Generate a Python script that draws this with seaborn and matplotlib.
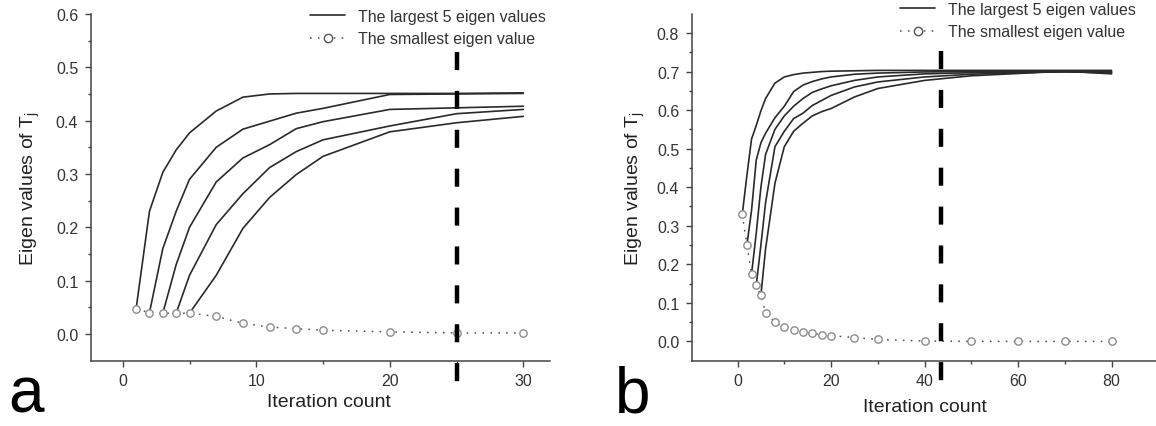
import numpy as np
import pandas as pd
import matplotlib
matplotlib.use("Agg")
import matplotlib.pyplot as plt
from matplotlib.lines import Line2D
import seaborn as sns

# panel a data
a_x = [1, 2, 3, 4, 5, 7, 9, 11, 13, 15, 20, 25, 30]
a_small = [0.047, 0.040, 0.039, 0.039, 0.039, 0.033, 0.020, 0.013, 0.010, 0.007, 0.004, 0.002, 0.002]
a_top = [
    [0.047, 0.230, 0.303, 0.345, 0.377, 0.418, 0.444, 0.450, 0.451, 0.451, 0.451, 0.451, 0.452],
    [0.040, 0.160, 0.230, 0.290, 0.350, 0.384, 0.399, 0.414, 0.423, 0.449, 0.450, 0.451],
    [0.039, 0.130, 0.200, 0.285, 0.330, 0.355, 0.385, 0.398, 0.421, 0.424, 0.427],
    [0.039, 0.110, 0.205, 0.263, 0.312, 0.342, 0.364, 0.390, 0.413, 0.421],
    [0.039, 0.110, 0.198, 0.256, 0.299, 0.333, 0.379, 0.396, 0.408],
]
a_cut = 25
a_cut_span = [0.528, -0.10]

# panel b data
b_x = [1, 2, 3, 4, 5, 6, 8, 10, 12, 14, 16, 18, 20, 25, 30, 40, 50, 60, 70, 80]
b_small = [0.330, 0.250, 0.175, 0.145, 0.120, 0.074, 0.050, 0.037, 0.029, 0.024, 0.021,
           0.017, 0.015, 0.010, 0.005, 0.001, 0.000, 0.000, 0.000, 0.000]
b_top = [
    [0.328, 0.430, 0.525, 0.560, 0.598, 0.630, 0.670, 0.686, 0.692, 0.696, 0.698, 0.700,
     0.701, 0.702, 0.703, 0.703, 0.703, 0.703, 0.703, 0.703],
    [0.250, 0.340, 0.470, 0.515, 0.540, 0.580, 0.610, 0.648, 0.665, 0.674, 0.681, 0.686,
     0.693, 0.696, 0.699, 0.700, 0.700, 0.700, 0.700],
    [0.175, 0.280, 0.400, 0.485, 0.550, 0.585, 0.610, 0.630, 0.646, 0.655, 0.663, 0.677,
     0.686, 0.694, 0.697, 0.698, 0.699, 0.698],
    [0.145, 0.250, 0.360, 0.505, 0.545, 0.578, 0.592, 0.612, 0.625, 0.638, 0.660, 0.673,
     0.686, 0.693, 0.697, 0.700, 0.696],
    [0.120, 0.240, 0.410, 0.505, 0.545, 0.566, 0.585, 0.596, 0.604, 0.634, 0.656, 0.677,
     0.689, 0.695, 0.701, 0.694],
]
b_cut = 43.6
b_cut_span = [0.754, -0.105]

ylabel = "Eigen values of T$_\\mathregular{j}$"
xlabel = "Iteration count"
leg_labels = ["The largest 5 eigen values", "The smallest eigen value"]

sns.set_style("ticks")
plt.rcParams["font.family"] = ["Liberation Sans", "DejaVu Sans"]
plt.rcParams["lines.scale_dashes"] = False

LINE = "#2a2a2a"
GREY = "#8c8c8c"
TXT = "#333333"


def long_df(xs, curves):
    rows = []
    for k, vals in enumerate(curves):
        for xv, yv in zip(xs[k:], vals):
            rows.append({"x": xv, "y": yv, "curve": k})
    return pd.DataFrame(rows)


def panel(ax, xs, small, curves, cut, span, xlim, ylim, xmaj, xmin_, ylab_x, xlab_pos):
    df = long_df(xs, curves)
    sns.lineplot(data=df, x="x", y="y", units="curve", estimator=None, color=LINE,
                 lw=1.2, ax=ax, zorder=3)
    sm = pd.DataFrame({"x": xs, "y": small})
    sns.lineplot(data=sm, x="x", y="y", ax=ax, color="#555555", lw=1.1,
                 linestyle=(0, (1.2, 4.5)), zorder=2)
    sns.scatterplot(data=sm, x="x", y="y", ax=ax, s=28, facecolor="white",
                    edgecolor=GREY, linewidth=1.0, zorder=4)
    ax.plot([cut, cut], span, color="black", lw=3.2, linestyle=(0, (13, 15)),
            solid_capstyle="butt", dash_capstyle="butt", clip_on=False, zorder=5)
    ax.set_xlim(*xlim)
    ax.set_ylim(*ylim)
    ax.set_xticks(np.arange(0, xlim[1], xmaj))
    ax.set_xticks(np.arange(xmin_, xlim[1], xmaj), minor=True)
    ax.set_yticks(np.arange(0, ylim[1] + 1e-9, 0.1))
    ax.set_yticks(np.arange(0.05, ylim[1], 0.1), minor=True)
    ax.yaxis.set_major_formatter(matplotlib.ticker.FormatStrFormatter("%.1f"))
    ax.tick_params(which="major", direction="out", length=4, width=1.0, color="#444444",
                   labelsize=11.5, labelcolor=TXT, pad=5)
    ax.tick_params(which="minor", direction="out", length=2.5, width=1.0, color="#444444")
    for s in ["left", "bottom"]:
        ax.spines[s].set_color("#444444")
        ax.spines[s].set_linewidth(1.1)
    sns.despine(ax=ax)
    ax.set_xlabel(xlabel, fontsize=14, color="#222222")
    ax.set_ylabel(ylabel, fontsize=14, color="#222222")
    ax.yaxis.set_label_coords(ylab_x, 0.5)
    ax.xaxis.set_label_coords(*xlab_pos)
    handles = [
        Line2D([], [], color=LINE, lw=1.2),
        Line2D([], [], color="#555555", lw=1.1, linestyle=(0, (1.2, 4.5)), marker="o",
               markersize=6, markerfacecolor="white", markeredgecolor="#555555"),
    ]
    return handles


fig = plt.figure(figsize=(11.56, 4.27), dpi=100)
ax_a = fig.add_axes([90.7 / 1156, 0.153, 459.3 / 1156, 0.812])
ax_b = fig.add_axes([691.7 / 1156, 0.153, 464.3 / 1156, 0.8125])

h = panel(ax_a, a_x, a_small, a_top, a_cut, a_cut_span, (-2.4, 32.0), (-0.05, 0.6),
          10, 5, -0.105, (0.519, -0.093))
panel(ax_b, b_x, b_small, b_top, b_cut, b_cut_span, (-9.8, 89.5), (-0.05, 0.85),
      20, 10, -0.097, (0.503, -0.107))

for ax, anchor in [(ax_a, (546, 427 - 10)), (ax_b, (1136, 427 - 3))]:
    fx, fy = anchor[0] / 1156, anchor[1] / 427
    leg = ax.legend(h, leg_labels, loc="upper right", bbox_to_anchor=(fx, fy),
                    bbox_transform=fig.transFigure, frameon=False, fontsize=11.5,
                    handlelength=2.2, handletextpad=0.8, labelspacing=0.45,
                    borderaxespad=0, borderpad=0)
    for t in leg.get_texts():
        t.set_color(TXT)

fig.text(8 / 1156, 14 / 427, "a", fontsize=46, color="black", ha="left", va="baseline")
fig.text(615 / 1156, 14 / 427, "b", fontsize=46, color="black", ha="left", va="baseline")

fig.savefig("out.png", dpi=100)
